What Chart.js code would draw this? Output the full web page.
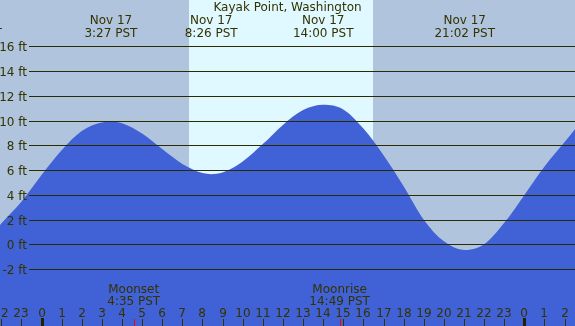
<!DOCTYPE html>
<html>
<head>
<meta charset="utf-8">
<script src="https://cdn.jsdelivr.net/npm/chart.js@4"></script>
<style>
  html, body { margin: 0; padding: 0; background: #b0c4de; }
  canvas { display: block; }
</style>
</head>
<body>
<canvas id="tideChart" width="575" height="326"></canvas>
<script>
// tide chart - Kayak Point, Washington, Nov 17

const title = "Kayak Point, Washington";

// hours from midnight Nov 17, tide height in ft
const hours = [-2.063, -2, -1, 0, 1, 2, 3, 3.45, 4, 5, 6, 7, 8, 8.433, 9, 10, 11, 12, 13, 14, 15, 16, 17, 18, 19, 20, 21.033, 22, 23, 24, 25, 26, 26.516];
const heights = [1.57, 1.69, 3.45, 5.6, 7.6, 9.15, 9.85, 9.9, 9.78, 8.95, 7.7, 6.5, 5.76, 5.67, 5.8, 6.7, 8.1, 9.65, 10.85, 11.28, 10.9, 9.35, 7.2, 4.7, 2.0, 0.25, -0.44, 0.02, 1.75, 4.0, 6.3, 8.27, 9.3];

const yTicks = [-2, 0, 2, 4, 6, 8, 10, 12, 14, 16];
const hourTicks = [-2, -1, 0, 1, 2, 3, 4, 5, 6, 7, 8, 9, 10, 11, 12, 13, 14, 15, 16, 17, 18, 19, 20, 21, 22, 23, 24, 25, 26];

// high / low tides (first one is just off the left edge)
const extremeHours = [-3.48, 3.45, 8.433, 14, 21.033];
const extremeDates = ["Nov 16", "Nov 17", "Nov 17", "Nov 17", "Nov 17"];
const extremeTimes = ["20:31 PST", "3:27 PST", "8:26 PST", "14:00 PST", "21:02 PST"];

// moon
const moonHours = [4.583, 14.817];
const moonNames = ["Moonset", "Moonrise"];
const moonTimes = ["4:35 PST", "14:49 PST"];

// daylight
const sunrise = 7.31;
const sunset = 16.47;

const textColor = "#333300";
const font = "12px 'DejaVu Sans'";

const tideDecor = {
  id: "tideDecor",
  beforeDatasetsDraw(chart) {
    const { ctx, chartArea: a, scales: { x } } = chart;
    ctx.save();
    ctx.fillStyle = "#b0c4de";
    ctx.fillRect(a.left, a.top, a.right - a.left, a.bottom - a.top);
    const x0 = Math.round(x.getPixelForValue(sunrise)), x1 = Math.round(x.getPixelForValue(sunset));
    ctx.fillStyle = "#e0f8ff";
    ctx.fillRect(x0, a.top, x1 - x0, a.bottom - a.top);
    ctx.restore();
  },
  afterDatasetsDraw(chart) {
    const { ctx, chartArea: a, scales: { x, y } } = chart;
    ctx.save();
    ctx.font = font;
    ctx.fillStyle = textColor;

    // grid lines + ft labels
    ctx.strokeStyle = "#2b2b00";
    ctx.lineWidth = 1;
    yTicks.forEach(v => {
      const py = Math.round(y.getPixelForValue(v)) + 0.5;
      ctx.beginPath();
      ctx.moveTo(29, py);
      ctx.lineTo(a.right, py);
      ctx.stroke();
      ctx.textAlign = "right";
      ctx.fillText(v + " ft", 27, py + 4);
    });

    // title
    ctx.textAlign = "center";
    ctx.fillText(title, (a.left + a.right) / 2, 11);

    // high / low labels
    extremeHours.forEach((h, i) => {
      const px = x.getPixelForValue(h);
      ctx.fillText(extremeDates[i], px, 24);
      ctx.fillText(extremeTimes[i], px, 37);
    });

    // moon labels
    moonHours.forEach((h, i) => {
      const px = x.getPixelForValue(h);
      ctx.fillText(moonNames[i], px, 293);
      ctx.fillText(moonTimes[i], px, 305);
    });

    // hour labels and ticks
    hourTicks.forEach(h => {
      const px = Math.round(x.getPixelForValue(h));
      ctx.fillText(String(((h % 24) + 24) % 24), px, 317);
      if (h % 24 === 0) {
        ctx.fillStyle = "#222200";
        ctx.fillRect(px - 1, 318, 3, 8);
        ctx.fillStyle = textColor;
      } else {
        ctx.fillRect(px, 319, 1, 7);
      }
    });

    // moon ticks
    ctx.fillStyle = "#ff0000";
    moonHours.forEach(h => {
      const px = Math.round(x.getPixelForValue(h));
      ctx.fillRect(px, 319, 1, 7);
    });
    ctx.restore();
  }
};

new Chart("tideChart", {
  type: "line",
  data: {
    datasets: [{
      data: hours.map((h, i) => ({ x: h, y: heights[i] })),
      backgroundColor: "#4161d6",
      borderColor: "#4161d6",
      borderWidth: 0,
      pointRadius: 0,
      fill: "start",
      cubicInterpolationMode: "monotone"
    }]
  },
  options: {
    responsive: false,
    animation: false,
    devicePixelRatio: 1,
    layout: { padding: 0 },
    scales: {
      x: { type: "linear", min: -2.063, max: 26.516, display: false },
      y: { min: -6.58, max: 19.73, display: false }
    },
    plugins: {
      legend: { display: false },
      tooltip: { enabled: false }
    }
  },
  plugins: [tideDecor]
});
</script>
</body>
</html>
